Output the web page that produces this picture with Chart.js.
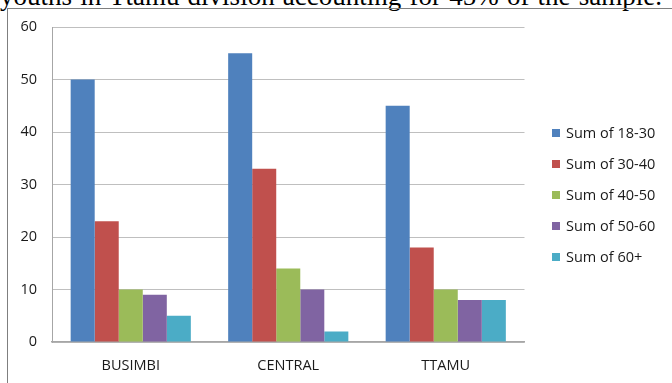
<!DOCTYPE html>
<html>
<head>
<meta charset="utf-8">
<script src="https://cdn.jsdelivr.net/npm/chart.js@4/dist/chart.umd.min.js"></script>
<style>
  html, body { margin: 0; padding: 0; background: #fff; }
  #page { position: relative; width: 672px; height: 383px; overflow: hidden; background: #fff; }
  #caption {
    position: absolute; left: 0; top: -17.5px; white-space: nowrap;
    font-family: "Liberation Serif", "Times New Roman", serif; font-size: 27px; line-height: 27px; color: #000;
  }
  #frame {
    position: absolute; left: 7px; top: 8px; width: 680px; height: 400px;
    border-top: 1px solid #7f7f7f; border-left: 1px solid #7f7f7f;
  }
  #chart { position: absolute; left: 0; top: 0; }
  #legend { position: absolute; left: 552px; top: 0; font-family: "Open Sans", sans-serif; font-size: 14.5px; color: #1a1a1a; }
  .item { position: absolute; left: 0; white-space: nowrap; }
  .box { position: absolute; left: 0; width: 8px; height: 8px; }
  .lbl { position: absolute; left: 14px; line-height: 20px; top: -10px; }
</style>
</head>
<body>
<div id="page">
  <div id="caption">youths in Ttamu division accounting for 45% of the sample.</div>
  <div id="frame"></div>
  <canvas id="chart" width="672" height="383"></canvas>
  <div id="legend"></div>
</div>
<script>
// Divisions and age-group counts
const categories = ["BUSIMBI", "CENTRAL", "TTAMU"];
const seriesNames = ["Sum of 18-30", "Sum of 30-40", "Sum of 40-50", "Sum of 50-60", "Sum of 60+"];
const age18to30 = [50, 55, 45];
const age30to40 = [23, 33, 18];
const age40to50 = [10, 14, 10];
const age50to60 = [9, 10, 8];
const age60plus = [5, 2, 8];
const yTicks = [0, 10, 20, 30, 40, 50, 60];

const seriesValues = [age18to30, age30to40, age40to50, age50to60, age60plus];
const seriesColors = ["#4F81BD", "#C0504D", "#9BBB59", "#8064A2", "#4BACC6"];

// Stretch the caption line across the page width
(function () {
  const cap = document.getElementById("caption");
  const target = 662;
  const w = cap.getBoundingClientRect().width;
  const spaces = (cap.textContent.match(/ /g) || []).length;
  if (spaces) cap.style.wordSpacing = ((target - w) / spaces) + "px";
})();

const font = { family: "'Open Sans', sans-serif", size: 14.5 };

new Chart(document.getElementById("chart"), {
  type: "bar",
  data: {
    labels: categories,
    datasets: seriesNames.map((name, i) => ({
      label: name,
      data: seriesValues[i],
      backgroundColor: seriesColors[i],
      borderWidth: 0,
      categoryPercentage: 0.763,
      barPercentage: 1.0
    }))
  },
  options: {
    responsive: false,
    animation: false,
    devicePixelRatio: 1,
    layout: { padding: { left: 0, right: 147.5, top: 27, bottom: 0 } },
    plugins: { legend: { display: false }, tooltip: { enabled: false } },
    scales: {
      x: {
        grid: { display: false, drawTicks: false },
        border: { color: "#a6a6a6", width: 1.5 },
        ticks: { font: font, color: "#1a1a1a", padding: 15 },
        afterFit: (s) => { s.height = 41; }
      },
      y: {
        min: 0, max: 60,
        afterBuildTicks: (s) => { s.ticks = yTicks.map(v => ({ value: v })); },
        grid: { color: "#bfbfbf", lineWidth: 1, drawTicks: false },
        border: { color: "#a6a6a6", width: 1 },
        ticks: { font: font, color: "#1a1a1a", padding: 15 },
        afterFit: (s) => { s.width = 52; }
      }
    }
  }
});

// Legend built from the series list
const legend = document.getElementById("legend");
const rowTops = 133.3, rowGap = 30.8;
seriesNames.forEach((name, i) => {
  const item = document.createElement("div");
  item.className = "item";
  item.style.top = (rowTops + i * rowGap) + "px";
  const box = document.createElement("div");
  box.className = "box";
  box.style.top = "-4px";
  box.style.background = seriesColors[i];
  const lbl = document.createElement("div");
  lbl.className = "lbl";
  lbl.textContent = name;
  item.appendChild(box);
  item.appendChild(lbl);
  legend.appendChild(item);
});
</script>
</body>
</html>
